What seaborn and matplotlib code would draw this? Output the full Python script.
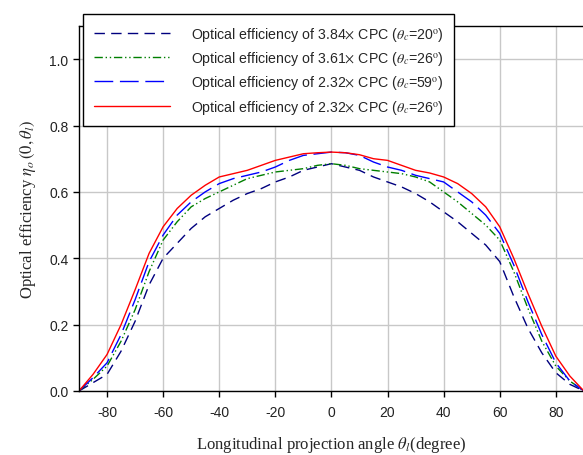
import matplotlib
matplotlib.use("Agg")
import matplotlib.pyplot as plt
import pandas as pd
import seaborn as sns

# Data (angle in degrees, efficiency 0..1)
angles = list(range(-90, 95, 5))

eff_384_20 = [0, 0.025, 0.05, 0.12, 0.21, 0.32, 0.40, 0.445, 0.49, 0.525, 0.55, 0.575,
              0.595, 0.61, 0.63, 0.645, 0.665, 0.675, 0.685, 0.675, 0.665, 0.645, 0.63,
              0.615, 0.595, 0.57, 0.54, 0.51, 0.475, 0.44, 0.39, 0.285, 0.19, 0.115,
              0.055, 0.02, 0]
eff_361_26 = [0, 0.035, 0.075, 0.15, 0.245, 0.36, 0.455, 0.51, 0.555, 0.58, 0.60, 0.62,
              0.64, 0.65, 0.66, 0.665, 0.67, 0.68, 0.685, 0.68, 0.67, 0.665, 0.66,
              0.655, 0.645, 0.63, 0.60, 0.57, 0.535, 0.50, 0.455, 0.36, 0.25, 0.15,
              0.075, 0.03, 0]
eff_232_59 = [0, 0.04, 0.085, 0.17, 0.275, 0.39, 0.47, 0.53, 0.57, 0.60, 0.625, 0.64,
              0.65, 0.66, 0.675, 0.695, 0.71, 0.715, 0.72, 0.718, 0.71, 0.69, 0.675,
              0.665, 0.65, 0.64, 0.63, 0.60, 0.57, 0.53, 0.475, 0.38, 0.27, 0.17,
              0.085, 0.03, 0]
eff_232_26 = [0, 0.05, 0.11, 0.20, 0.305, 0.415, 0.495, 0.55, 0.59, 0.62, 0.645, 0.655,
              0.665, 0.68, 0.695, 0.705, 0.715, 0.718, 0.72, 0.718, 0.712, 0.70, 0.695,
              0.68, 0.665, 0.657, 0.645, 0.625, 0.595, 0.555, 0.495, 0.40, 0.295, 0.195,
              0.105, 0.045, 0]

labels = [
    r"Optical efficiency of 3.84$\times$ CPC ($\theta_c$=20$^{\rm o}$)",
    r"Optical efficiency of 3.61$\times$ CPC ($\theta_c$=26$^{\rm o}$)",
    r"Optical efficiency of 2.32$\times$ CPC ($\theta_c$=59$^{\rm o}$)",
    r"Optical efficiency of 2.32$\times$ CPC ($\theta_c$=26$^{\rm o}$)",
]
series = [eff_384_20, eff_361_26, eff_232_59, eff_232_26]
colors = ["#00007f", "#007f00", "#0000ff", "#ff0000"]
dashes = [(7.5, 4.5), (6, 2, 1, 2, 1, 2), (13.5, 4.8), None]

sns.set_theme(style="whitegrid")
plt.rcParams["font.family"] = ["Liberation Sans", "DejaVu Sans"]
plt.rcParams["mathtext.fontset"] = "stix"
plt.rcParams["axes.unicode_minus"] = False

fig = plt.figure(figsize=(5.83, 4.56), dpi=100)
ax = fig.add_axes([0.1355, 0.1404, 0.866, 0.8004])

handles = []
for vals, lab, col, dsh in zip(series, labels, colors, dashes):
    df = pd.DataFrame({"angle": angles, "eff": vals})
    sns.lineplot(data=df, x="angle", y="eff", color=col, linewidth=1.0, ax=ax, label=lab)
    line = ax.get_lines()[-1]
    if dsh is not None:
        line.set_dashes(dsh)
    handles.append(line)

ax.set_xlim(-90, 90)
ax.set_ylim(0, 1.1)
ax.set_xticks(range(-80, 81, 20))
ax.set_yticks([0, 0.2, 0.4, 0.6, 0.8, 1.0])
ax.set_yticklabels(["0.0", "0.2", "0.4", "0.6", "0.8", "1.0"])
ax.tick_params(axis="both", labelsize=10, length=4, width=1, color="black",
               direction="out", bottom=True, left=True, labelcolor="#222222")
ax.tick_params(axis="x", pad=6)
ax.grid(True, color="#c8c8c8", linewidth=1.0)
for s in ax.spines.values():
    s.set_visible(True)
    s.set_color("black")
    s.set_linewidth(1.0)

ax.set_xlabel(r"Longitudinal projection angle $\theta_l$(degree)",
              family="Liberation Serif", fontsize=12, labelpad=11)
ax.set_ylabel(r"Optical efficiency $\eta_o\,(0,\theta_l)$",
              family="Liberation Serif", fontsize=12, labelpad=8)

leg = ax.legend(handles=handles, labels=labels, loc="upper left",
                bbox_to_anchor=(83 / 583, 1 - 15 / 456), bbox_transform=fig.transFigure,
                borderaxespad=0, fontsize=10.2, handlelength=5.4, labelspacing=0.45,
                borderpad=0.75, handletextpad=1.45, fancybox=False, framealpha=1.0,
                edgecolor="black")
leg.get_frame().set_linewidth(1.0)
leg.set_zorder(10)

fig.savefig("out.png", dpi=100)
